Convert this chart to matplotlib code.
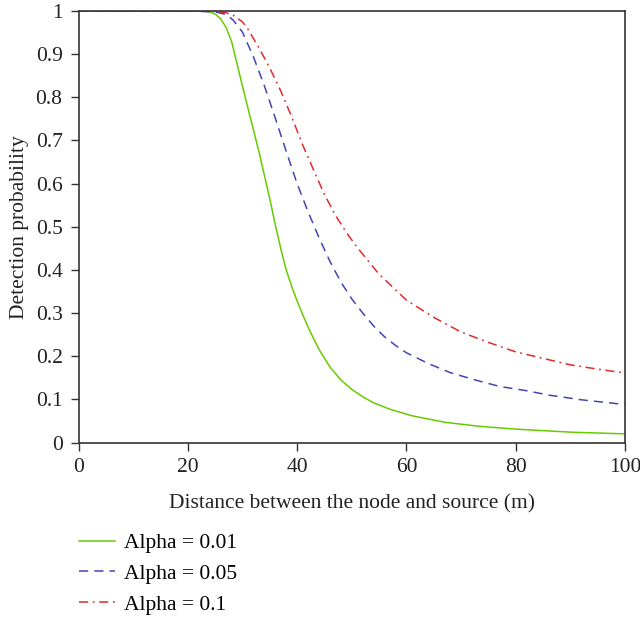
import matplotlib
matplotlib.use('Agg')
import matplotlib.pyplot as plt
from matplotlib.ticker import FuncFormatter

# ── Data ─────────────────────────────────────────────────────────────────────
X_A001 = [0, 20, 23, 24, 25, 26, 27, 28, 29, 30, 31, 32, 33, 34, 35, 36, 37,
          38, 39, 40, 41, 42, 43, 44, 46, 48, 50, 52, 54, 57, 61, 67, 73, 80,
          90, 100]
Y_A001 = [1, 1, 1, 0.998, 0.993, 0.982, 0.962, 0.93, 0.878, 0.826, 0.775,
          0.725, 0.675, 0.62, 0.565, 0.505, 0.45, 0.40, 0.362, 0.328, 0.297,
          0.268, 0.241, 0.216, 0.175, 0.145, 0.123, 0.106, 0.092, 0.077,
          0.062, 0.047, 0.038, 0.031, 0.024, 0.02]

X_A005 = [0, 20, 25, 27, 28.3, 30, 32, 34, 36, 38, 40, 42, 44, 46, 48, 50,
          52, 54, 56, 58, 60, 64, 68, 72, 77, 82, 86, 92, 100]
Y_A005 = [1, 1, 0.998, 0.992, 0.979, 0.951, 0.894, 0.827, 0.752, 0.675, 0.60,
          0.535, 0.475, 0.42, 0.372, 0.333, 0.30, 0.27, 0.245, 0.225, 0.208,
          0.183, 0.162, 0.147, 0.13, 0.12, 0.11, 0.099, 0.088]

X_A01 = [0, 20, 25, 27, 28.3, 30, 31, 33, 35, 37, 39, 41, 43, 45, 47, 49, 51,
         55, 60, 65, 70, 75, 80, 85, 90, 95, 100]
Y_A01 = [1, 1, 0.999, 0.996, 0.99, 0.975, 0.958, 0.915, 0.868, 0.815, 0.755,
         0.69, 0.632, 0.575, 0.527, 0.487, 0.452, 0.39, 0.33, 0.29, 0.256,
         0.232, 0.21, 0.195, 0.18, 0.17, 0.161]

LABELS = ["Alpha = 0.01", "Alpha = 0.05", "Alpha = 0.1"]
X_TICKS = [0, 20, 40, 60, 80, 100]
Y_TICKS = [0, 0.1, 0.2, 0.3, 0.4, 0.5, 0.6, 0.7, 0.8, 0.9, 1]
# ─────────────────────────────────────────────────────────────────────────────

plt.rcParams['font.family'] = ['Liberation Serif', 'DejaVu Serif']
FS = 15.5
TXT = "#222222"

fig = plt.figure(figsize=(6.4, 6.2), dpi=100)
ax = fig.add_axes([78.5 / 640, 1 - 442.5 / 620, (625 - 78.5) / 640, (442.5 - 11) / 620])

ax.plot(X_A001, Y_A001, color="#66cc00", linewidth=1.1, label=LABELS[0])
ax.plot(X_A005, Y_A005, color="#4444b4", linewidth=1.1,
        dashes=(6, 4), label=LABELS[1])
ax.plot(X_A01, Y_A01, color="#e22a2a", linewidth=1.1,
        dashes=(6, 3, 1.2, 3), label=LABELS[2])

ax.set_xlim(0, 100)
ax.set_ylim(0, 1)
ax.set_xticks(X_TICKS)
ax.set_yticks(Y_TICKS)
ax.yaxis.set_major_formatter(FuncFormatter(lambda v, p: f"{v:g}"))
ax.tick_params(direction="out", length=5.5, width=1, colors="#333333",
               labelcolor=TXT, labelsize=FS, pad=6, top=False, right=False)
for sp in ax.spines.values():
    sp.set_color("#333333")
    sp.set_linewidth(1.2)

ax.set_xlabel("Distance between the node and source (m)", fontsize=FS,
              color=TXT, labelpad=12)
ax.set_ylabel("Detection probability", fontsize=FS, color=TXT, labelpad=5)

fig.legend(loc="upper left", bbox_to_anchor=(79 / 640, 1 - 533 / 620),
           frameon=False, fontsize=FS, handlelength=1.65, labelspacing=0.5,
           handletextpad=0.45, borderaxespad=0, borderpad=0)

plt.savefig("out.png", dpi=100)
plt.close("all")
